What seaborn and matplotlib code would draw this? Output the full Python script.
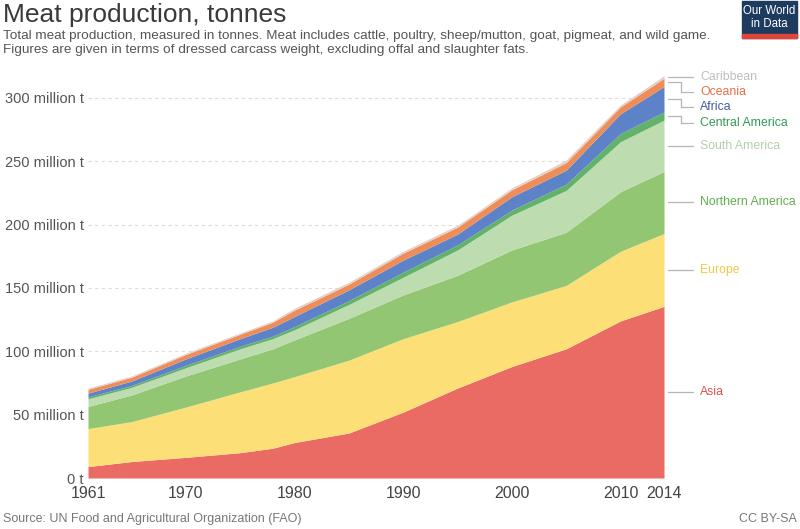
import matplotlib
matplotlib.use("Agg")
import matplotlib.pyplot as plt
import seaborn as sns
import numpy as np
from matplotlib.patches import Rectangle

# values, million tonnes
years = [1961, 1965, 1970, 1975, 1978, 1980, 1985, 1990, 1995, 2000, 2005, 2010, 2014]
asia = [9, 13, 16.3, 20, 23.5, 28, 35.5, 52, 71, 88, 102, 124, 135.5]
europe = [30, 31.5, 39.7, 48, 51.5, 52, 57.5, 58, 52.5, 51, 50, 55, 57.5]
northern_america = [17.5, 21, 24.5, 26, 27, 29, 33, 34.5, 36.5, 41, 42, 47, 49]
south_america = [6, 6, 6.5, 8, 8, 8, 11, 14, 20, 27.5, 33, 39.5, 40.5]
central_america = [1.5, 1.5, 2, 2, 2, 2.5, 3, 4, 4, 4, 5, 6.5, 6.5]
africa = [3, 3.5, 5, 6, 7, 8, 8.5, 9.5, 8.5, 10.5, 11, 15.5, 20]
oceania = [3, 3, 3.5, 3.5, 4, 5, 4.5, 5.5, 5.5, 5.5, 6, 5.5, 6.5]
caribbean = [1, 1, 1, 1, 1, 1.5, 1.5, 1.5, 1.5, 1.5, 2, 1.5, 2]

regions = ["Asia", "Europe", "Northern America", "South America",
           "Central America", "Africa", "Oceania", "Caribbean"]
series = [asia, europe, northern_america, south_america,
          central_america, africa, oceania, caribbean]
fill_colors = ["#ea6b63", "#fddf77", "#93c672", "#bddcaf",
               "#62b26a", "#5e82c7", "#ee8d58", "#e4cfc8"]
label_colors = ["#d9534f", "#f2c744", "#5faf4f", "#b4cfaa",
                "#2e9a55", "#3e5aa3", "#e86e45", "#bdbdbd"]

yticks = [0, 50, 100, 150, 200, 250, 300]
ytick_labels = ["0 t", "50 million t", "100 million t", "150 million t",
                "200 million t", "250 million t", "300 million t"]
xticks = [1961, 1970, 1980, 1990, 2000, 2010, 2014]

sns.set_theme(style="white")
plt.rcParams["font.family"] = ["Liberation Sans", "DejaVu Sans"]

fig = plt.figure(figsize=(8, 5.29), dpi=100)
ax = fig.add_axes([88 / 800, 1 - 478 / 529, 576 / 800, (478 - 72.6) / 529])

ax.stackplot(years, *series, colors=fill_colors, linewidth=0, zorder=2)
ax.set_xlim(1961, 2014)
ax.set_ylim(0, 320)

for v in yticks[1:]:
    ax.axhline(v, color="#dddddd", lw=0.8, ls=(0, (3, 3)), zorder=1)

ax.set_yticks(yticks)
ax.set_yticklabels(ytick_labels, fontsize=10.5, color="#555555")
ax.set_xticks(xticks)
ax.set_xticklabels([str(x) for x in xticks], fontsize=11.5, color="#444444")
ax.tick_params(axis="y", length=0, pad=3)
ax.tick_params(axis="x", length=0, pad=6)
for s in ax.spines.values():
    s.set_visible(False)

# labels at the right end with connector lines
tops = np.cumsum([s[-1] for s in series])
bottoms = tops - np.array([s[-1] for s in series])
mids = (tops + bottoms) / 2
label_y = list(mids)
for i in range(len(series) - 2, -1, -1):
    label_y[i] = min(mids[i], label_y[i + 1] - 12)
tr = ax.get_yaxis_transform()
for i in range(len(series)):
    ax.plot([1.007, 1.03, 1.03, 1.05], [mids[i], mids[i], label_y[i], label_y[i]],
            transform=tr, color="#b5b5b5", lw=0.9, clip_on=False)
    ax.text(1.063, label_y[i], regions[i], transform=tr, color=label_colors[i],
            fontsize=8.8, va="center", ha="left")

# title block
fig.text(0.004, 0.995, "Meat production, tonnes", fontsize=19,
         color="#3a3a3a", va="top", ha="left")
fig.text(0.004, 0.944, "Total meat production, measured in tonnes. Meat includes cattle, "
         "poultry, sheep/mutton, goat, pigmeat, and wild game.",
         fontsize=9.7, color="#555555", va="top", ha="left")
fig.text(0.004, 0.917, "Figures are given in terms of dressed carcass weight, "
         "excluding offal and slaughter fats.", fontsize=9.7,
         color="#555555", va="top", ha="left")

# logo
fig.patches.append(Rectangle((742 / 800, 1 - 38 / 529), 55 / 800, 37 / 529,
                             transform=fig.transFigure, color="#1d3a5f"))
fig.patches.append(Rectangle((742 / 800, 1 - 38 / 529), 55 / 800, 4 / 529,
                             transform=fig.transFigure, color="#e0453a"))
fig.text(769.5 / 800, 1 - 11 / 529, "Our World", fontsize=8.3,
         color="white", ha="center", va="center")
fig.text(769.5 / 800, 1 - 24 / 529, "in Data", fontsize=8.3,
         color="white", ha="center", va="center")

# footer
fig.text(0.004, 0.008, "Source: UN Food and Agricultural Organization (FAO)",
         fontsize=9, color="#777777", ha="left", va="bottom")
fig.text(0.996, 0.008, "CC BY-SA", fontsize=9, color="#777777",
         ha="right", va="bottom")

fig.savefig("out.png", dpi=100)
